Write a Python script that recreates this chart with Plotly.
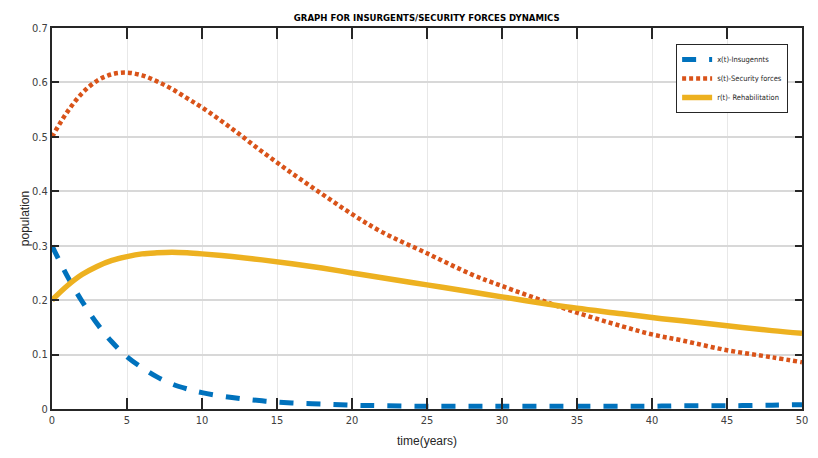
import plotly.graph_objects as go

t_vals = [0, 1, 2, 3, 4, 5, 6, 7, 8, 9, 10, 12, 14, 16, 18, 20, 22, 25, 28, 30, 33, 35, 38, 40, 42, 45, 48, 50]
x_insurgents = [0.300, 0.245, 0.198, 0.157, 0.123, 0.096, 0.076, 0.059, 0.046, 0.037, 0.030, 0.021, 0.015, 0.011,
                0.009, 0.007, 0.006, 0.005, 0.005, 0.005, 0.005, 0.005, 0.005, 0.005, 0.006, 0.006, 0.007, 0.008]
s_security = [0.500, 0.545, 0.580, 0.603, 0.615, 0.618, 0.613, 0.602, 0.588, 0.571, 0.554, 0.515, 0.473, 0.433,
              0.395, 0.358, 0.325, 0.286, 0.247, 0.226, 0.196, 0.177, 0.152, 0.137, 0.126, 0.108, 0.095, 0.086]
r_rehab = [0.200, 0.226, 0.247, 0.262, 0.273, 0.280, 0.285, 0.287, 0.288, 0.287, 0.285, 0.280, 0.274, 0.267,
           0.259, 0.250, 0.241, 0.228, 0.215, 0.206, 0.193, 0.185, 0.175, 0.168, 0.162, 0.153, 0.144, 0.139]

names = ["x(t)-Insugennts", "s(t)-Security forces", "r(t)- Rehabilitation"]
x_ticks = [0, 5, 10, 15, 20, 25, 30, 35, 40, 45, 50]
y_ticks = [0, 0.1, 0.2, 0.3, 0.4, 0.5, 0.6, 0.7]
y_tick_text = ["0", "0.1", "0.2", "0.3", "0.4", "0.5", "0.6", "0.7"]

narrow = "DejaVu Sans Condensed, Liberation Sans Narrow, Liberation Sans, sans-serif"
regular = "Liberation Sans, Arial, sans-serif"

fig = go.Figure()
fig.add_trace(go.Scatter(x=t_vals, y=x_insurgents, mode="lines", name=names[0], line_shape="spline",
                         line=dict(color="#0072BD", width=5, dash="14px,13px")))
fig.add_trace(go.Scatter(x=t_vals, y=s_security, mode="lines", name=names[1], line_shape="spline",
                         line=dict(color="#D95319", width=4.5, dash="4px,3px")))
fig.add_trace(go.Scatter(x=t_vals, y=r_rehab, mode="lines", name=names[2], line_shape="spline",
                         line=dict(color="#EDB120", width=5.5)))

fig.update_layout(
    width=810, height=450,
    margin=dict(l=44, r=16, t=20, b=49),
    paper_bgcolor="white", plot_bgcolor="white",
    title=dict(text="<b>GRAPH FOR INSURGENTS/SECURITY FORCES DYNAMICS</b>", x=0.517, xanchor="center",
               y=0.9795, yanchor="middle", font=dict(family=narrow, size=9.5, color="#000000")),
    legend=dict(x=0.9815, y=0.958, xanchor="right", yanchor="top", bgcolor="white",
                bordercolor="#262626", borderwidth=1, font=dict(family=narrow, size=7.5, color="#262626"),
                tracegroupgap=0, itemwidth=30),
    showlegend=True,
)
fig.update_xaxes(range=[0, 50], tickvals=x_ticks, showgrid=True, gridcolor="#e8e8e8", gridwidth=1,
                 showline=True, linecolor="#262626", linewidth=2, mirror="ticks", ticks="inside", ticklen=11,
                 tickwidth=1.5, tickcolor="#262626", zeroline=False, automargin=False,
                 tickfont=dict(family=narrow, size=11, color="#404040"),
                 title=dict(text="time(years)", font=dict(family=regular, size=12, color="#262626"), standoff=10))
fig.update_yaxes(range=[0, 0.7], tickvals=y_ticks, ticktext=y_tick_text, showgrid=True, gridcolor="#d8d8d8",
                 gridwidth=1.5, showline=True, linecolor="#262626", linewidth=2, mirror="ticks", ticks="inside",
                 ticklen=7, tickwidth=2, tickcolor="#262626", zeroline=False, automargin=False,
                 tickfont=dict(family=narrow, size=11, color="#404040"),
                 title=dict(text="population", font=dict(family=regular, size=12, color="#262626"), standoff=0))

fig.write_html("out.html")
